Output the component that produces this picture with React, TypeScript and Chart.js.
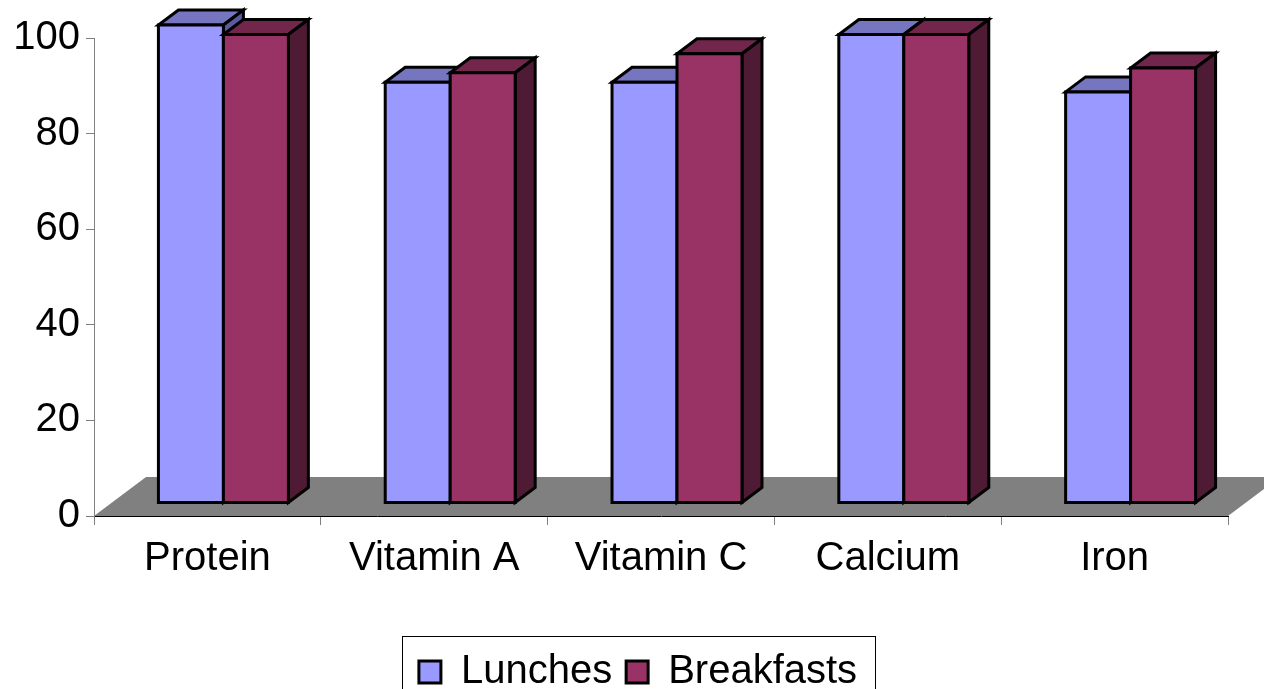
import React, { useEffect, useRef } from "react";
import { Chart, registerables } from "chart.js";

Chart.register(...registerables);

const categories = ["Protein", "Vitamin A", "Vitamin C", "Calcium", "Iron"];
const seriesNames = ["Lunches", "Breakfasts"];
const lunches = [100, 88, 88, 98, 86];
const breakfasts = [98, 90, 94, 98, 91];
const yTicks = [0, 20, 40, 60, 80, 100];

const FRONT = ["#9999FF", "#993366"];
const TOP = ["#7575C0", "#72264C"];
const SIDE = ["#5A5AA0", "#4E1A34"];

const FONT_FAMILY = "'Liberation Sans', Arial, Helvetica, sans-serif";

const FLOOR_DX = 52;
const FLOOR_DY = 39;
const BAR_SHIFT_X = 16;
const BAR_SHIFT_Y = 13;
const DEPTH_X = 20;
const DEPTH_Y = 15;
const LEGEND_SHIFT = 24;

function poly(ctx: CanvasRenderingContext2D, pts: number[][], fill: string) {
  ctx.beginPath();
  ctx.moveTo(pts[0][0], pts[0][1]);
  for (let i = 1; i < pts.length; i++) ctx.lineTo(pts[i][0], pts[i][1]);
  ctx.closePath();
  ctx.fillStyle = fill;
  ctx.fill();
  ctx.stroke();
}

const threeD = {
  id: "threeD",
  afterLayout(chart: any) {
    const lg = chart.legend;
    if (lg) {
      lg.left += LEGEND_SHIFT;
      lg.right += LEGEND_SHIFT;
    }
  },
  beforeDatasetsDraw(chart: any) {
    const { ctx } = chart;
    const x = chart.scales.x;
    const y = chart.scales.y;
    const y0 = y.getPixelForValue(0);
    ctx.save();
    ctx.fillStyle = "#808080";
    ctx.beginPath();
    ctx.moveTo(x.left, y0);
    ctx.lineTo(x.right, y0);
    ctx.lineTo(x.right + FLOOR_DX, y0 - FLOOR_DY);
    ctx.lineTo(x.left + FLOOR_DX, y0 - FLOOR_DY);
    ctx.closePath();
    ctx.fill();
    ctx.restore();
    ctx.save();
    ctx.translate(BAR_SHIFT_X, -BAR_SHIFT_Y);
  },
  afterDatasetsDraw(chart: any) {
    const { ctx } = chart;
    const metas = chart.data.datasets.map((_: any, i: number) => chart.getDatasetMeta(i));
    ctx.save();
    ctx.lineWidth = 3;
    ctx.strokeStyle = "#000";
    ctx.lineJoin = "miter";
    for (let c = 0; c < categories.length; c++) {
      metas.forEach((meta: any, d: number) => {
        const el = meta.data[c];
        if (!el) return;
        const { x, y, base, width } = el.getProps(["x", "y", "base", "width"], true);
        const l = x - width / 2;
        const r = x + width / 2;
        poly(ctx, [[l, y], [r, y], [r + DEPTH_X, y - DEPTH_Y], [l + DEPTH_X, y - DEPTH_Y]], TOP[d]);
        poly(ctx, [[r, y], [r + DEPTH_X, y - DEPTH_Y], [r + DEPTH_X, base - DEPTH_Y], [r, base]], SIDE[d]);
        poly(ctx, [[l, y], [r, y], [r, base], [l, base]], FRONT[d]);
      });
    }
    ctx.restore();
    ctx.restore();
  },
  afterDraw(chart: any) {
    const { ctx } = chart;
    const lg = chart.legend;
    if (!lg || !lg.legendHitBoxes || !lg.legendHitBoxes.length) return;
    const hb = lg.legendHitBoxes;
    const first = hb[0];
    const last = hb[hb.length - 1];
    const left = Math.round(first.left - 16.5);
    const right = Math.round(last.left + last.width + 18);
    const top = Math.round(first.top - 16);
    ctx.save();
    ctx.strokeStyle = "#000";
    ctx.lineWidth = 1;
    ctx.strokeRect(left + 0.5, top + 0.5, right - left, 90);
    ctx.restore();
  },
};

export default function App() {
  const ref = useRef<HTMLCanvasElement>(null);

  useEffect(() => {
    if (!ref.current) return;
    const font = { family: FONT_FAMILY, size: 40 };
    const chart = new Chart(ref.current, {
      type: "bar",
      data: {
        labels: categories,
        datasets: [
          {
            label: seriesNames[0],
            data: lunches,
            backgroundColor: FRONT[0],
            borderColor: "#000",
            borderWidth: 3,
            categoryPercentage: 0.573,
            barPercentage: 1,
            clip: false as any,
          },
          {
            label: seriesNames[1],
            data: breakfasts,
            backgroundColor: FRONT[1],
            borderColor: "#000",
            borderWidth: 3,
            categoryPercentage: 0.573,
            barPercentage: 1,
            clip: false as any,
          },
        ],
      },
      options: {
        responsive: false,
        animation: false,
        devicePixelRatio: 1,
        layout: { padding: { left: 0, right: 36, top: 38, bottom: 0 } },
        scales: {
          x: {
            type: "category",
            offset: true,
            grid: {
              offset: true,
              drawOnChartArea: false,
              drawTicks: true,
              tickLength: 9,
              color: "#808080",
              lineWidth: 1,
            },
            border: { display: true, color: "#000", width: 1, z: 1 },
            ticks: { font, color: "#000", padding: 10, maxRotation: 0, autoSkip: false },
            afterFit: (s: any) => {
              s.height = 122;
            },
          },
          y: {
            min: 0,
            max: 100,
            grid: {
              drawOnChartArea: false,
              drawTicks: true,
              tickLength: 8,
              color: "#808080",
              lineWidth: 1,
            },
            border: { display: true, color: "#808080", width: 1, z: 1 },
            ticks: { font, color: "#000", padding: 6, stepSize: 20 },
            afterBuildTicks: (s: any) => {
              s.ticks = yTicks.map((v) => ({ value: v }));
            },
            afterFit: (s: any) => {
              s.width = 94;
            },
          },
        },
        plugins: {
          tooltip: { enabled: false },
          title: { display: false },
          legend: {
            display: true,
            position: "bottom",
            labels: {
              font,
              color: "#000",
              boxWidth: 22,
              boxHeight: 22,
              padding: 14,
            },
          },
        },
      },
      plugins: [threeD],
    } as any);
    return () => chart.destroy();
  }, []);

  return (
    <div
      style={{
        position: "fixed",
        left: 0,
        top: 0,
        width: 1264,
        height: 689,
        overflow: "hidden",
        background: "#fff",
      }}
    >
      <canvas ref={ref} width={1264} height={702} style={{ display: "block", width: 1264, height: 702 }} />
    </div>
  );
}
